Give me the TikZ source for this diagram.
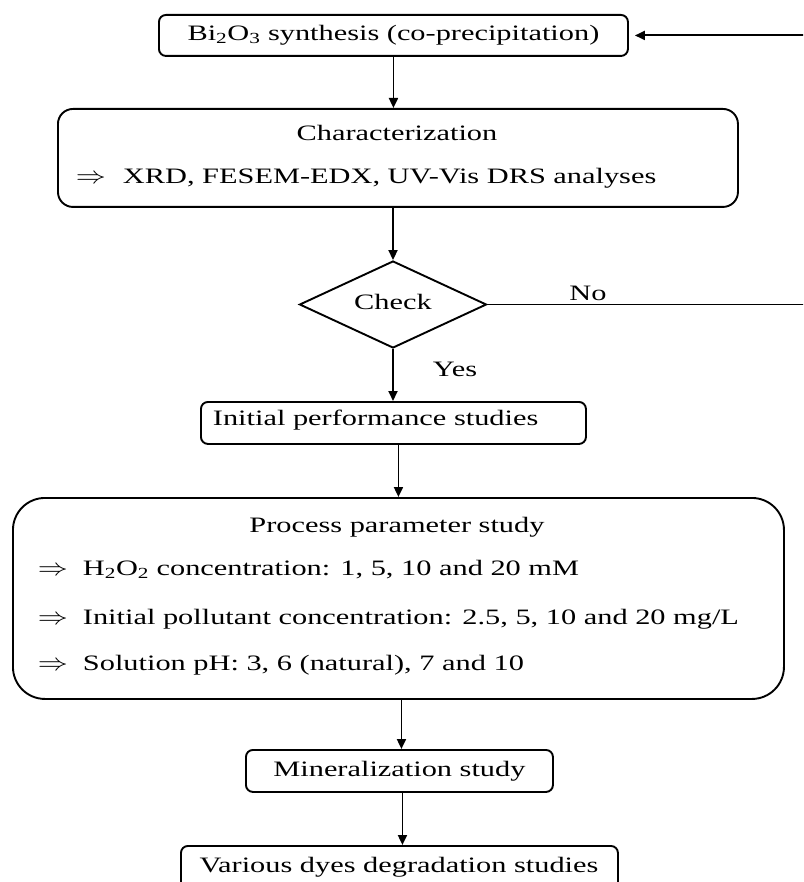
\documentclass[tikz,border=0pt]{standalone}
\usepackage{fontspec}
\setmainfont{Liberation Serif}[FakeStretch=1.38]
\usetikzlibrary{shapes.geometric,arrows.meta}
\newcommand{\dimp}{\scalebox{1.45}[1.15]{$\Rightarrow$}}
\begin{document}
\begin{tikzpicture}[x=1pt,y=-1pt,line width=1.9pt,
  every node/.style={font=\fontsize{22}{26}\selectfont},
  box/.style={draw,rounded corners=7pt,inner sep=0pt,anchor=north west},
  txt/.style={inner sep=0pt},
  arr/.style={-{Triangle[length=10pt,width=9pt]}}]
\useasboundingbox (0,0) rectangle (803,882);
\clip (0,0) rectangle (803,882);
% boxes
\node[box,minimum width=469pt,minimum height=41pt] (syn) at (158,14)
  {Bi\textsubscript{2}O\textsubscript{3} synthesis (co-precipitation)};
\node[box,rounded corners=15pt,minimum width=680pt,minimum height=98pt] (char) at (57,108) {};
\node[txt] (chart) at (397,133) {Characterization};
\node[txt,anchor=mid west] (charar) at (75,181) {\dimp};
\node[txt,anchor=mid west] (chara) at (122,181) {XRD, FESEM-EDX, UV-Vis DRS analyses};
\node[draw,diamond,aspect=2.15,minimum width=187pt,minimum height=87pt,inner sep=0pt] (check) at (393,304.5) {};
\node[txt] (checkt) at (393,302) {Check};
\node[txt] (no) at (588,293) {No};
\node[txt] (yes) at (455,369) {Yes};
\node[box,minimum width=385pt,minimum height=42pt] (init) at (200,401) {};
\node[txt,anchor=mid west] (initt) at (212,423) {Initial performance studies};
\node[box,rounded corners=32pt,minimum width=771pt,minimum height=201pt] (proc) at (12,497) {};
\node[txt] (proct) at (397,527) {Process parameter study};
\node[txt,anchor=mid west] (p1a) at (37,573) {\dimp};
\node[txt,anchor=mid west] (p1) at (82,573) {H\textsubscript{2}O\textsubscript{2} concentration: 1, 5, 10 and 20 mM};
\node[txt,anchor=mid west] (p2a) at (37,622) {\dimp};
\node[txt,anchor=mid west] (p2) at (82,622) {Initial pollutant concentration: 2.5, 5, 10 and 20 mg/L};
\node[txt,anchor=mid west] (p3a) at (37,668) {\dimp};
\node[txt,anchor=mid west] (p3) at (82,668) {Solution pH: 3, 6 (natural), 7 and 10};
\node[box,minimum width=307pt,minimum height=42pt] (min) at (245,749) {Mineralization study};
\node[box,minimum width=437pt,minimum height=48pt,anchor=north west] (dyes) at (180,845) {};
\node[txt] (dyest) at (399,867) {Various dyes degradation studies};
% connectors
\coordinate (loop) at (815,0);
\draw[arr] (syn.south) -- (syn.south |- char.north);
\draw[arr] (char.south -| check.north) -- (check.north);
\draw[arr] (check.south) -- (check.south |- init.north);
\draw[arr] ([xshift=5pt]init.south) -- ([xshift=5pt]init.south |- proc.north);
\draw[arr] ([xshift=3pt]proc.south) -- ([xshift=3pt]proc.south |- min.north);
\draw[arr] ([xshift=3pt]min.south) -- ([xshift=3pt]min.south |- dyes.north);
\draw[arr] (check.east) -- (check.east -| loop) |- ([xshift=6pt]syn.east);
\end{tikzpicture}
\end{document}
